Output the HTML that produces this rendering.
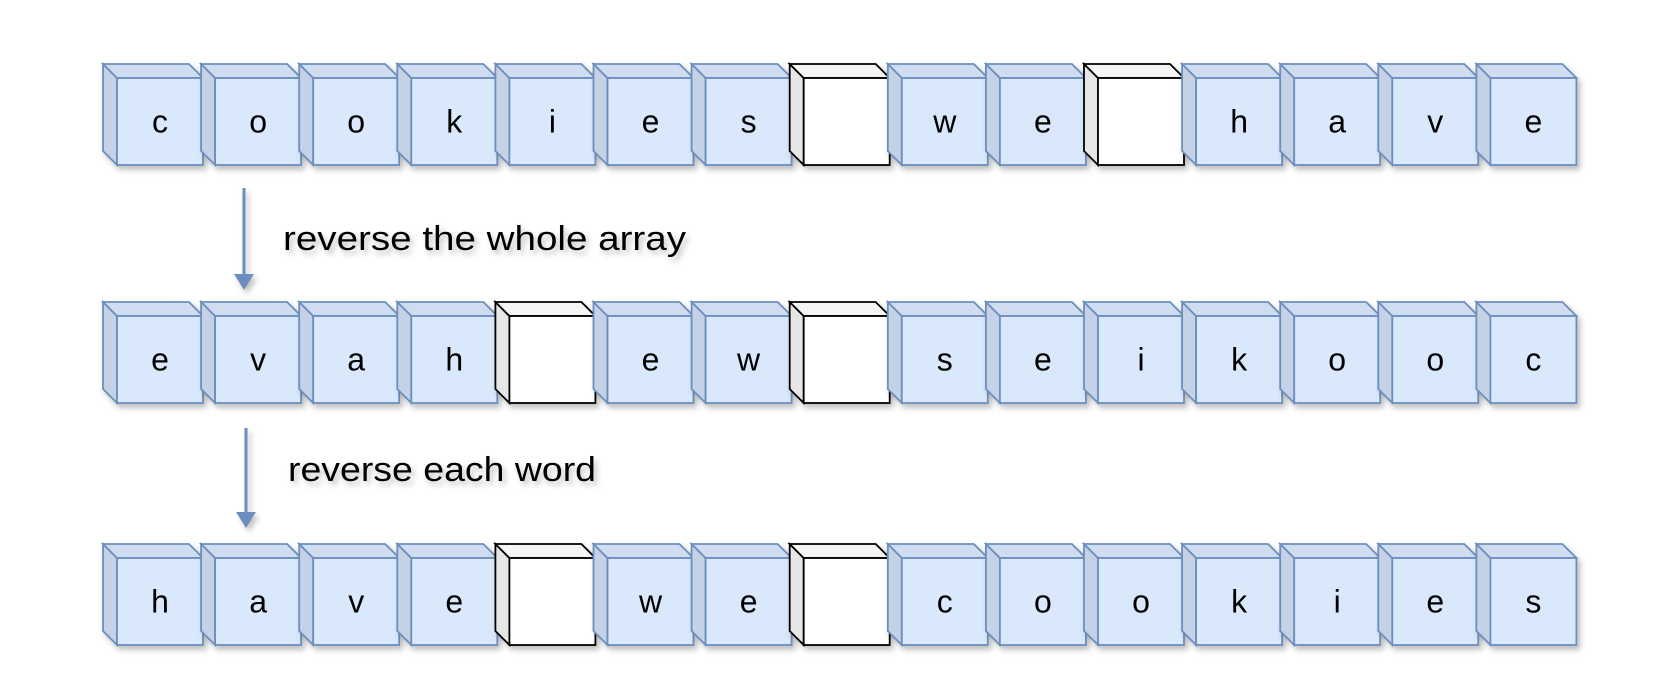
<!DOCTYPE html>
<html><head><meta charset="utf-8"><style>
html,body{margin:0;padding:0;background:#fff;width:1676px;height:690px;overflow:hidden}
svg text{font-family:"Comic Sans MS","Liberation Sans",sans-serif}
</style></head><body>
<svg id="c" width="1676" height="690" xmlns="http://www.w3.org/2000/svg">
<defs>
<filter id="sh" x="-20%" y="-20%" width="150%" height="150%"><feDropShadow dx="3" dy="4" stdDeviation="3" flood-color="#000" flood-opacity="0.25"/></filter>
</defs>
<g filter="url(#sh)">
<line x1="244" y1="188" x2="244" y2="278" stroke="#6c8ebf" stroke-width="3"/>
<polygon points="234,274 244,290 254,274" fill="#6c8ebf"/>
</g>
<text x="283" y="250" font-size="34" textLength="403" lengthAdjust="spacingAndGlyphs" fill="#000" filter="url(#sh)">reverse the whole array</text>
<g filter="url(#sh)">
<line x1="246" y1="428" x2="246" y2="516" stroke="#6c8ebf" stroke-width="3"/>
<polygon points="236,512 246,528 256,512" fill="#6c8ebf"/>
</g>
<text x="288" y="481" font-size="34" textLength="308" lengthAdjust="spacingAndGlyphs" fill="#000" filter="url(#sh)">reverse each word</text>
</svg>
<script>
const row1 = ['c','o','o','k','i','e','s',' ','w','e',' ','h','a','v','e'];
const row2 = ['e','v','a','h',' ','e','w',' ','s','e','i','k','o','o','c'];
const row3 = ['h','a','v','e',' ','w','e',' ','c','o','o','k','i','e','s'];
const rows = [row1,row2,row3];
const rowTops = [64,302,544];
const svg = document.getElementById('c');
const NS='http://www.w3.org/2000/svg';
const x0=103, pitch=98.1, d=14, w=86, h=87;
rows.forEach((row,ri)=>{
  const g=document.createElementNS(NS,'g');
  
  
  svg.appendChild(g);
  row.forEach((ch,i)=>{
    const bx=x0+i*pitch, by=rowTops[ri];
    const fx=bx+d, fy=by+d;
    const blank=ch===' ';
    const stroke=blank?'#000':'#6c8ebf';
    const cg=document.createElementNS(NS,'g');
    
    
    cg.setAttribute('filter','url(#sh)');
    const side=document.createElementNS(NS,'polygon');
    side.setAttribute('points',`${bx},${by} ${fx},${fy} ${fx},${fy+h} ${bx},${by+h}`);
    side.setAttribute('fill',blank?'#e6e6e6':'#c5d2e6');
    side.setAttribute('stroke',stroke);side.setAttribute('stroke-width','1.8');
    const top=document.createElementNS(NS,'polygon');
    top.setAttribute('points',`${bx},${by} ${bx+w},${by} ${fx+w},${fy} ${fx},${fy}`);
    top.setAttribute('fill',blank?'#f5f5f5':'#d0ddf0');
    top.setAttribute('stroke',stroke);top.setAttribute('stroke-width','1.8');
    const front=document.createElementNS(NS,'rect');
    front.setAttribute('x',fx);front.setAttribute('y',fy);front.setAttribute('width',w);front.setAttribute('height',h);
    front.setAttribute('fill',blank?'#fff':'#dae8fc');
    front.setAttribute('stroke',stroke);front.setAttribute('stroke-width','1.8');
    cg.appendChild(side);cg.appendChild(top);cg.appendChild(front);
    g.appendChild(cg);
    if(!blank){
      const t=document.createElementNS(NS,'text');
      t.setAttribute('x',fx+w/2);t.setAttribute('y',fy+h/2+11);
      t.setAttribute('text-anchor','middle');t.setAttribute('font-size','32');
      
      
      t.textContent=ch;
      g.appendChild(t);
    }
  });
});
</script>
</body></html>
